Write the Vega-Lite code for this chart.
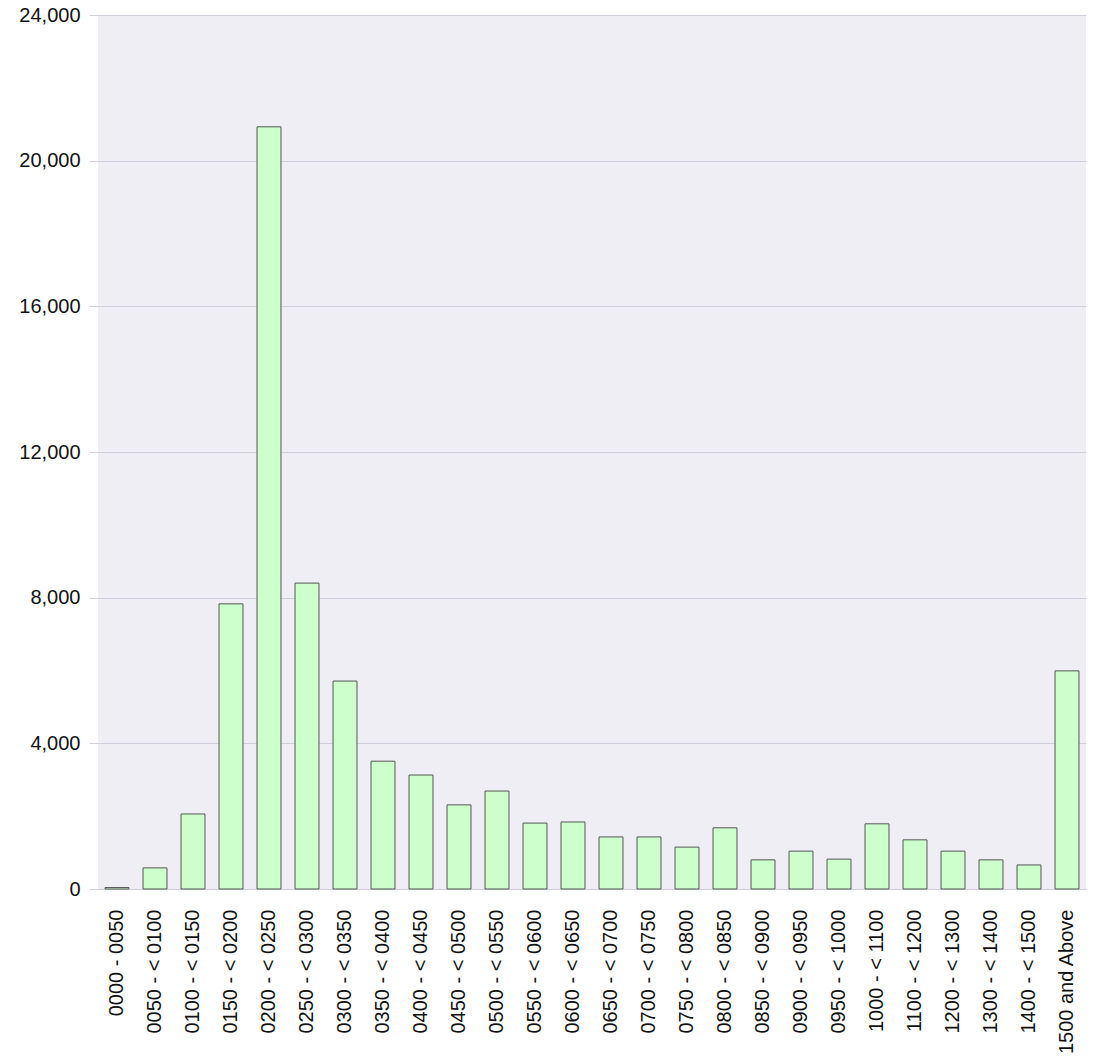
{
  "$schema": "https://vega.github.io/schema/vega-lite/v6.json",
  "autosize": {"type": "none"},
  "padding": {"left": 98, "top": 15, "right": 14, "bottom": 170},
  "width": 988,
  "height": 874,
  "background": "white",
  "config": {
    "view": {"fill": "#efeef4", "stroke": null},
    "font": "Liberation Sans",
    "axis": {"labelFont": "Liberation Sans", "labelFontSize": 20, "labelColor": "#111111"}
  },
  "data": {
    "values": [
      {"range": "0000 - 0050", "count": 40},
      {"range": "0050 - < 0100", "count": 580},
      {"range": "0100 - < 0150", "count": 2060},
      {"range": "0150 - < 0200", "count": 7830},
      {"range": "0200 - < 0250", "count": 20930},
      {"range": "0250 - < 0300", "count": 8400},
      {"range": "0300 - < 0350", "count": 5710},
      {"range": "0350 - < 0400", "count": 3510},
      {"range": "0400 - < 0450", "count": 3130},
      {"range": "0450 - < 0500", "count": 2310},
      {"range": "0500 - < 0550", "count": 2690},
      {"range": "0550 - < 0600", "count": 1810},
      {"range": "0600 - < 0650", "count": 1840},
      {"range": "0650 - < 0700", "count": 1430},
      {"range": "0700 - < 0750", "count": 1430},
      {"range": "0750 - < 0800", "count": 1150},
      {"range": "0800 - < 0850", "count": 1680},
      {"range": "0850 - < 0900", "count": 800},
      {"range": "0900 - < 0950", "count": 1040},
      {"range": "0950 - < 1000", "count": 820},
      {"range": "1000 - < 1100", "count": 1790},
      {"range": "1100 - < 1200", "count": 1350},
      {"range": "1200 - < 1300", "count": 1040},
      {"range": "1300 - < 1400", "count": 800},
      {"range": "1400 - < 1500", "count": 660},
      {"range": "1500 and Above", "count": 5990}
    ]
  },
  "mark": {"type": "bar", "fill": "#ccffcc", "stroke": "#555555", "strokeWidth": 1},
  "encoding": {
    "x": {
      "field": "range",
      "type": "nominal",
      "sort": null,
      "scale": {"paddingInner": 0.37, "paddingOuter": 0.185},
      "axis": {
        "title": null,
        "labelAngle": -90,
        "labelAlign": "right",
        "labelBaseline": "middle",
        "ticks": false,
        "labelPadding": 20,
        "domainColor": "#cfcfdb",
        "grid": false
      }
    },
    "y": {
      "field": "count",
      "type": "quantitative",
      "scale": {"domain": [0, 24000], "nice": false},
      "axis": {
        "title": null,
        "values": [0, 4000, 8000, 12000, 16000, 20000, 24000],
        "format": ",d",
        "domain": false,
        "tickSize": 9,
        "tickColor": "#cfcfdb",
        "labelPadding": 9,
        "gridColor": "#cfcfdb",
        "grid": true
      }
    }
  }
}
